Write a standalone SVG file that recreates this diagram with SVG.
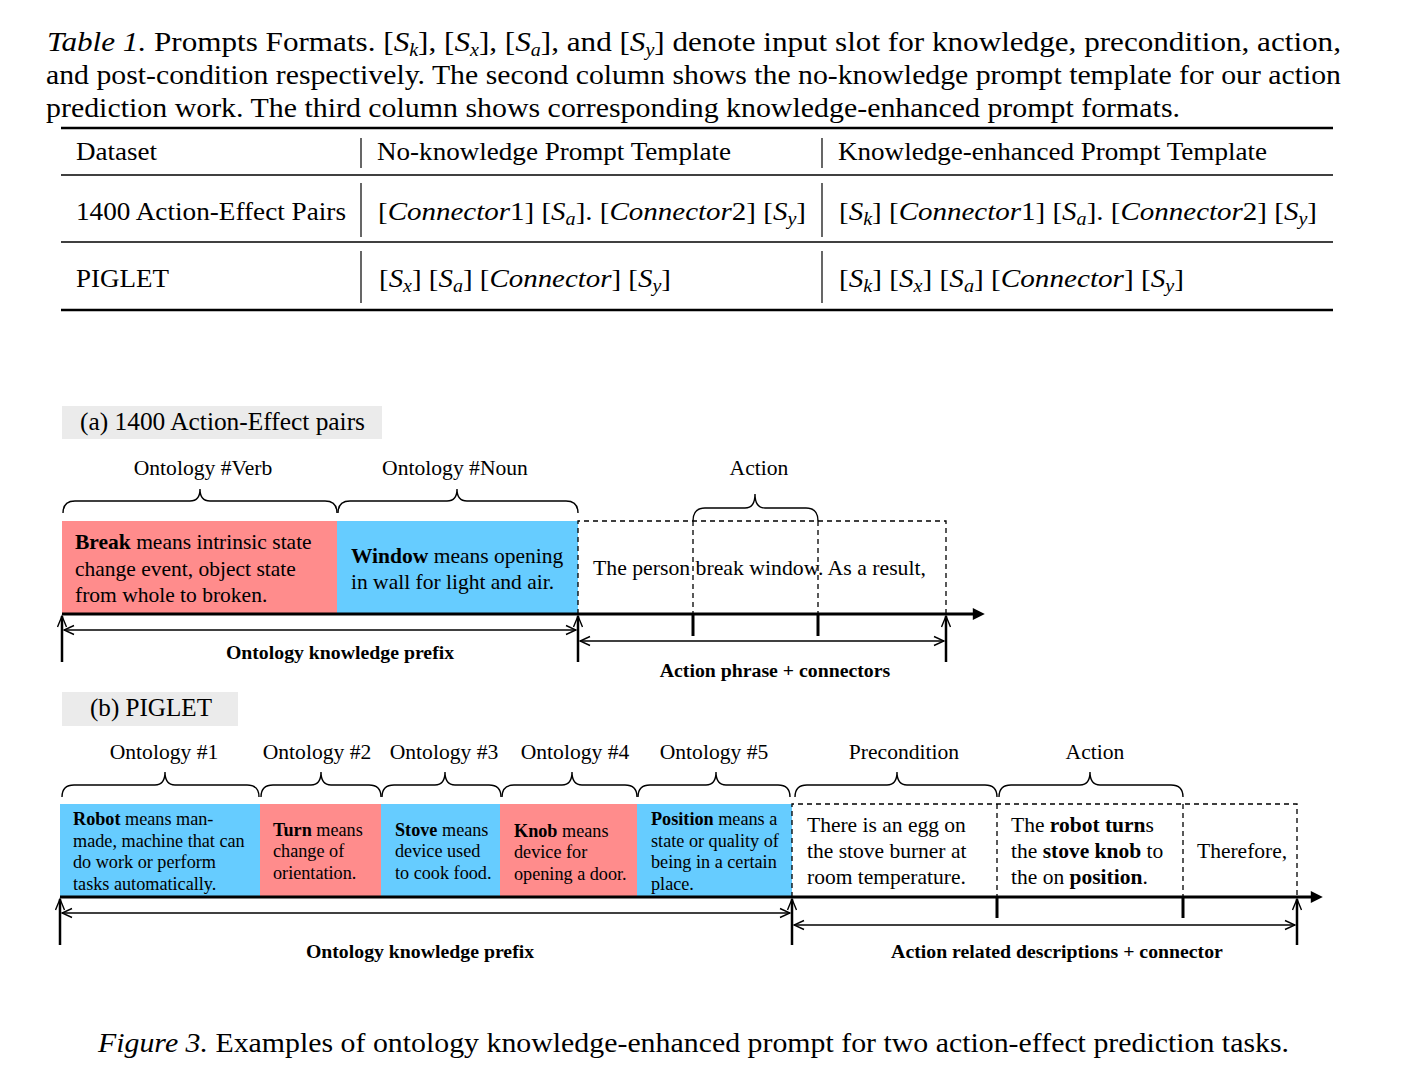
<svg xmlns="http://www.w3.org/2000/svg" width="1401" height="1065" viewBox="0 0 1401 1065">
<style>
text{font-family:"Liberation Serif","Times New Roman",serif;fill:#000}
.cap{font-size:28px}
.th{font-size:26px}
.math{font-size:26px}
.it{font-style:italic}
.sub{font-size:18px;font-style:italic}
.lbl{font-size:21.6px}
.bt{font-size:21.5px}
.sm{font-size:18.2px}
.bl{font-weight:bold}
.pref{font-size:19.8px;font-weight:bold}
.pink{fill:#FF8C8C}
.blue{fill:#66CCFF}
.dash{fill:none;stroke:#000;stroke-width:1.3;stroke-dasharray:5,4}
.brace{fill:none;stroke:#000;stroke-width:1.4}
.axis{stroke:#000;stroke-width:3}
.bar{stroke:#000;stroke-width:2.5}
.dbl{stroke:#000;stroke-width:1.3}
.chev{fill:none;stroke:#000;stroke-width:1.4}
</style>
<defs>
<marker id="tri" viewBox="0 0 10 10" refX="1" refY="5" markerWidth="14" markerHeight="12" markerUnits="userSpaceOnUse" orient="auto"><path d="M0,0 L10,5 L0,10 z" fill="#000"/></marker>
<marker id="chv" viewBox="0 0 12 12" refX="11" refY="6" markerWidth="12" markerHeight="12" markerUnits="userSpaceOnUse" orient="auto-start-reverse"><path d="M1,1.5 L11,6 L1,10.5" fill="none" stroke="#000" stroke-width="1.4"/></marker>
</defs>
<rect width="1401" height="1065" fill="#fff"/>

<g id="table-caption">
<text class="cap" x="47" y="51" textLength="1294" lengthAdjust="spacingAndGlyphs"><tspan class="it">Table 1.</tspan> Prompts Formats.  [<tspan class="it">S</tspan><tspan class="sub" dy="5">k</tspan><tspan dy="-5">], [</tspan><tspan class="it">S</tspan><tspan class="sub" dy="5">x</tspan><tspan dy="-5">], [</tspan><tspan class="it">S</tspan><tspan class="sub" dy="5">a</tspan><tspan dy="-5">], and [</tspan><tspan class="it">S</tspan><tspan class="sub" dy="5">y</tspan><tspan dy="-5">] denote input slot for knowledge, precondition, action,</tspan></text>
<text class="cap" x="46" y="84" textLength="1295" lengthAdjust="spacingAndGlyphs">and post-condition respectively. The second column shows the no-knowledge prompt template for our action</text>
<text class="cap" x="46" y="117" textLength="1134" lengthAdjust="spacingAndGlyphs">prediction work. The third column shows corresponding knowledge-enhanced prompt formats.</text>
</g>

<g id="table">
<line x1="61" y1="128" x2="1333" y2="128" stroke="#000" stroke-width="2.5"/>
<line x1="61" y1="175" x2="1333" y2="175" stroke="#000" stroke-width="1.5"/>
<line x1="61" y1="242" x2="1333" y2="242" stroke="#000" stroke-width="1.5"/>
<line x1="61" y1="310" x2="1333" y2="310" stroke="#000" stroke-width="2.5"/>
<g stroke="#000" stroke-width="1.2">
<line x1="361" y1="138" x2="361" y2="168"/><line x1="822" y1="138" x2="822" y2="168"/>
<line x1="361" y1="183" x2="361" y2="237"/><line x1="822" y1="183" x2="822" y2="237"/>
<line x1="361" y1="251" x2="361" y2="303"/><line x1="822" y1="251" x2="822" y2="303"/>
</g>
<text class="th" x="76" y="160" textLength="81" lengthAdjust="spacingAndGlyphs">Dataset</text>
<text class="th" x="377" y="160" textLength="354" lengthAdjust="spacingAndGlyphs">No-knowledge Prompt Template</text>
<text class="th" x="838" y="160" textLength="429" lengthAdjust="spacingAndGlyphs">Knowledge-enhanced Prompt Template</text>
<text class="th" x="76" y="220" textLength="270" lengthAdjust="spacingAndGlyphs">1400 Action-Effect Pairs</text>
<text class="th" x="76" y="287" textLength="93" lengthAdjust="spacingAndGlyphs">PIGLET</text>
<text class="math" x="378" y="220" textLength="428" lengthAdjust="spacingAndGlyphs">[<tspan class="it">Connector</tspan>1] [<tspan class="it">S</tspan><tspan class="sub" dy="5">a</tspan><tspan dy="-5">]. [</tspan><tspan class="it">Connector</tspan>2] [<tspan class="it">S</tspan><tspan class="sub" dy="5">y</tspan><tspan dy="-5">]</tspan></text>
<text class="math" x="839" y="220" textLength="478" lengthAdjust="spacingAndGlyphs">[<tspan class="it">S</tspan><tspan class="sub" dy="5">k</tspan><tspan dy="-5">] [</tspan><tspan class="it">Connector</tspan>1] [<tspan class="it">S</tspan><tspan class="sub" dy="5">a</tspan><tspan dy="-5">]. [</tspan><tspan class="it">Connector</tspan>2] [<tspan class="it">S</tspan><tspan class="sub" dy="5">y</tspan><tspan dy="-5">]</tspan></text>
<text class="math" x="379" y="287" textLength="292" lengthAdjust="spacingAndGlyphs">[<tspan class="it">S</tspan><tspan class="sub" dy="5">x</tspan><tspan dy="-5">] [</tspan><tspan class="it">S</tspan><tspan class="sub" dy="5">a</tspan><tspan dy="-5">] [</tspan><tspan class="it">Connector</tspan>] [<tspan class="it">S</tspan><tspan class="sub" dy="5">y</tspan><tspan dy="-5">]</tspan></text>
<text class="math" x="839" y="287" textLength="345" lengthAdjust="spacingAndGlyphs">[<tspan class="it">S</tspan><tspan class="sub" dy="5">k</tspan><tspan dy="-5">] [</tspan><tspan class="it">S</tspan><tspan class="sub" dy="5">x</tspan><tspan dy="-5">] [</tspan><tspan class="it">S</tspan><tspan class="sub" dy="5">a</tspan><tspan dy="-5">] [</tspan><tspan class="it">Connector</tspan>] [<tspan class="it">S</tspan><tspan class="sub" dy="5">y</tspan><tspan dy="-5">]</tspan></text>
</g>

<!-- (a) -->
<g id="label-a">
<rect x="62" y="406" width="320" height="33" fill="#ebebeb"/>
<text x="80" y="430" font-size="25" textLength="285" lengthAdjust="spacingAndGlyphs">(a) 1400 Action-Effect pairs</text>
</g>
<g id="a-labels">
<text class="lbl" x="203" y="475" text-anchor="middle">Ontology #Verb</text>
<text class="lbl" x="455" y="475" text-anchor="middle">Ontology #Noun</text>
<text class="lbl" x="759" y="475" text-anchor="middle">Action</text>
</g>
<g id="a-verb">
<rect x="62" y="521" width="275" height="93" class="pink"/>
<text class="bt" x="75" y="549"><tspan class="bl">Break</tspan> means intrinsic state</text>
<text class="bt" x="75" y="576">change event, object state</text>
<text class="bt" x="75" y="602">from whole to broken.</text>
</g>
<g id="a-noun">
<rect x="337" y="521" width="241" height="93" class="blue"/>
<text class="bt" x="351" y="563"><tspan class="bl">Window</tspan> means opening</text>
<text class="bt" x="351" y="589">in wall for light and air.</text>
</g>
<g id="a-action">
<path class="dash" d="M578,614 L578,521 L946,521 L946,614"/>
<line class="dash" x1="693" y1="521" x2="693" y2="614"/>
<line class="dash" x1="818" y1="521" x2="818" y2="614"/>
<text class="bt" x="593" y="575" textLength="333" lengthAdjust="spacingAndGlyphs">The person break window. As a result,</text>
</g>

<!-- (b) -->
<g id="label-b">
<rect x="62" y="692" width="176" height="34" fill="#ebebeb"/>
<text x="90" y="716" font-size="25" textLength="122" lengthAdjust="spacingAndGlyphs">(b) PIGLET</text>
</g>
<g id="b-labels">
<text class="lbl" x="164" y="759" text-anchor="middle">Ontology #1</text>
<text class="lbl" x="317" y="759" text-anchor="middle">Ontology #2</text>
<text class="lbl" x="444" y="759" text-anchor="middle">Ontology #3</text>
<text class="lbl" x="575" y="759" text-anchor="middle">Ontology #4</text>
<text class="lbl" x="714" y="759" text-anchor="middle">Ontology #5</text>
<text class="lbl" x="904" y="759" text-anchor="middle">Precondition</text>
<text class="lbl" x="1095" y="759" text-anchor="middle">Action</text>
</g>
<g id="b-robot">
<rect x="60" y="804" width="200" height="93" class="blue"/>
<text class="sm" x="73" y="825"><tspan class="bl">Robot</tspan> means man-</text>
<text class="sm" x="73" y="847">made, machine that can</text>
<text class="sm" x="73" y="868">do work or perform</text>
<text class="sm" x="73" y="890">tasks automatically.</text>
</g>
<g id="b-turn">
<rect x="260" y="804" width="121" height="93" class="pink"/>
<text class="sm" x="273" y="836"><tspan class="bl">Turn</tspan> means</text>
<text class="sm" x="273" y="857">change of</text>
<text class="sm" x="273" y="879">orientation.</text>
</g>
<g id="b-stove">
<rect x="381" y="804" width="119" height="93" class="blue"/>
<text class="sm" x="395" y="836"><tspan class="bl">Stove</tspan> means</text>
<text class="sm" x="395" y="857">device used</text>
<text class="sm" x="395" y="879">to cook food.</text>
</g>
<g id="b-knob">
<rect x="500" y="804" width="137" height="93" class="pink"/>
<text class="sm" x="514" y="837"><tspan class="bl">Knob</tspan> means</text>
<text class="sm" x="514" y="858">device for</text>
<text class="sm" x="514" y="880">opening a door.</text>
</g>
<g id="b-position">
<rect x="637" y="804" width="155" height="93" class="blue"/>
<text class="sm" x="651" y="825"><tspan class="bl">Position</tspan> means a</text>
<text class="sm" x="651" y="847">state or quality of</text>
<text class="sm" x="651" y="868">being in a certain</text>
<text class="sm" x="651" y="890">place.</text>
</g>
<g id="b-precondition">
<path class="dash" d="M792,897 L792,804 L1297,804 L1297,897"/>
<text class="bt" x="807" y="832">There is an egg on</text>
<text class="bt" x="807" y="858">the stove burner at</text>
<text class="bt" x="807" y="884">room temperature.</text>
</g>
<g id="b-action">
<line class="dash" x1="997" y1="804" x2="997" y2="897"/>
<text class="bt" x="1011" y="832">The <tspan class="bl">robot turn</tspan>s</text>
<text class="bt" x="1011" y="858">the <tspan class="bl">stove knob</tspan> to</text>
<text class="bt" x="1011" y="884">the on <tspan class="bl">position</tspan>.</text>
</g>
<g id="b-connector">
<line class="dash" x1="1183" y1="804" x2="1183" y2="897"/>
<text class="bt" x="1197" y="858">Therefore,</text>
</g>

<g id="connectors">
<path class="brace" d="M63,513 Q63,501 75,501 L190,501 Q200,501 200,489 Q200,501 210,501 L325,501 Q337,501 337,513"/>
<path class="brace" d="M338,513 Q338,501 350,501 L447,501 Q457,501 457,489 Q457,501 467,501 L566,501 Q578,501 578,513"/>
<path class="brace" d="M693,521 Q693,508 705,508 L745,508 Q755,508 755,494 Q755,508 765,508 L806,508 Q818,508 818,521"/>
<line class="axis" x1="62" y1="614" x2="974" y2="614" marker-end="url(#tri)"/>
<line class="axis" x1="693" y1="614" x2="693" y2="636"/>
<line class="axis" x1="818" y1="614" x2="818" y2="636"/>
<line class="bar" x1="62" y1="662" x2="62" y2="616"/>
<line class="bar" x1="578" y1="662" x2="578" y2="616"/>
<line class="bar" x1="946" y1="662" x2="946" y2="616"/>
<path class="chev" d="M57.5,627 L62,616 L66.5,627 M573.5,627 L578,616 L582.5,627 M941.5,627 L946,616 L950.5,627"/>
<line class="dbl" x1="64" y1="630" x2="576" y2="630" marker-start="url(#chv)" marker-end="url(#chv)"/>
<line class="dbl" x1="580" y1="641" x2="944" y2="641" marker-start="url(#chv)" marker-end="url(#chv)"/>
<text class="pref" x="340" y="659" text-anchor="middle">Ontology knowledge prefix</text>
<text class="pref" x="775" y="677" text-anchor="middle">Action phrase + connectors</text>
<path class="brace" d="M62,797 Q62,785 74,785 L155,785 Q165,785 165,772 Q165,785 175,785 L247,785 Q259,785 259,797"/>
<path class="brace" d="M261,797 Q261,785 273,785 L311,785 Q321,785 321,772 Q321,785 331,785 L369,785 Q381,785 381,797"/>
<path class="brace" d="M382,797 Q382,785 394,785 L435,785 Q445,785 445,772 Q445,785 455,785 L489,785 Q501,785 501,797"/>
<path class="brace" d="M502,797 Q502,785 514,785 L562,785 Q572,785 572,772 Q572,785 582,785 L625,785 Q637,785 637,797"/>
<path class="brace" d="M638,797 Q638,785 650,785 L706,785 Q716,785 716,772 Q716,785 726,785 L778,785 Q790,785 790,797"/>
<path class="brace" d="M795,797 Q795,785 807,785 L887,785 Q897,785 897,772 Q897,785 907,785 L985,785 Q997,785 997,797"/>
<path class="brace" d="M999,797 Q999,785 1011,785 L1080,785 Q1090,785 1090,772 Q1090,785 1100,785 L1171,785 Q1183,785 1183,797"/>
<line class="axis" x1="60" y1="897" x2="1312" y2="897" marker-end="url(#tri)"/>
<line class="axis" x1="997" y1="897" x2="997" y2="918"/>
<line class="axis" x1="1183" y1="897" x2="1183" y2="918"/>
<line class="bar" x1="60" y1="945" x2="60" y2="899"/>
<line class="bar" x1="792" y1="945" x2="792" y2="899"/>
<line class="bar" x1="1297" y1="945" x2="1297" y2="899"/>
<path class="chev" d="M55.5,910 L60,899 L64.5,910 M787.5,910 L792,899 L796.5,910 M1292.5,910 L1297,899 L1301.5,910"/>
<line class="dbl" x1="62" y1="913" x2="790" y2="913" marker-start="url(#chv)" marker-end="url(#chv)"/>
<line class="dbl" x1="794" y1="925" x2="1295" y2="925" marker-start="url(#chv)" marker-end="url(#chv)"/>
<text class="pref" x="420" y="958" text-anchor="middle">Ontology knowledge prefix</text>
<text class="pref" x="1057" y="958" text-anchor="middle">Action related descriptions + connector</text>
</g>

<g id="figure-caption">
<text class="cap" x="98" y="1052" font-size="28" textLength="1191" lengthAdjust="spacingAndGlyphs"><tspan class="it">Figure 3.</tspan> Examples of ontology knowledge-enhanced prompt for two action-effect prediction tasks.</text>
</g>
</svg>
